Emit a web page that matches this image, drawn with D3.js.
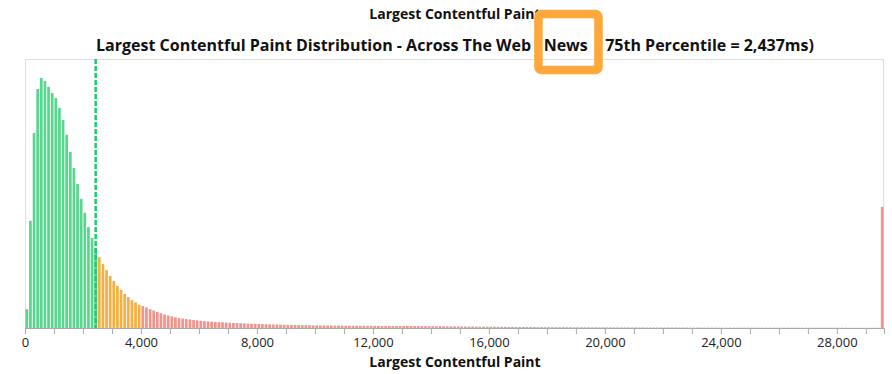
<!DOCTYPE html>
<html>
<head>
<meta charset="utf-8">
<script src="https://cdn.jsdelivr.net/npm/d3@7/dist/d3.min.js"></script>
<style>
  html, body { margin: 0; padding: 0; background: #fff; }
  svg { display: block; font-family: "Open Sans", "Noto Sans", sans-serif; }
</style>
</head>
<body>
<svg id="chart" width="892" height="374"></svg>
<script>
// LCP histogram, share of page loads (%) per 125 ms bin
const binWidth = 125;
const p75 = 2437;
const goodLimit = 2500;
const poorLimit = 4000;

// 0 – 2,500 ms
const goodShares = [0.42, 2.39, 4.35, 5.33, 5.58, 5.51, 5.38, 5.24, 5.13, 4.91,
  4.64, 4.31, 3.93, 3.57, 3.21, 2.88, 2.57, 2.25, 2.01, 1.78];

// 2,500 – 4,000 ms
const needsImprovementShares = [1.58, 1.43, 1.29, 1.16, 1.05, 0.94, 0.85, 0.76, 0.69, 0.62, 0.57, 0.52];

// 4,000 – 29,500 ms
const poorShares = [
  0.49, 0.46, 0.42, 0.39, 0.36, 0.33, 0.30, 0.28, 0.26, 0.24, 0.22, 0.21, 0.20, 0.19, 0.18, 0.17, 0.16,
  0.152, 0.146, 0.141, 0.136, 0.131, 0.127, 0.123, 0.118, 0.114, 0.110, 0.106, 0.103,
  0.099, 0.096, 0.093, 0.090, 0.087, 0.084, 0.081, 0.079, 0.077, 0.075,
  0.073, 0.071, 0.069, 0.067, 0.066, 0.064, 0.063, 0.061, 0.060, 0.058,
  0.057, 0.057, 0.056, 0.055, 0.055, 0.054, 0.053, 0.053, 0.052, 0.052,
  0.051, 0.050, 0.050, 0.049, 0.049, 0.048, 0.048, 0.047, 0.047, 0.046,
  0.046, 0.045, 0.045, 0.045, 0.044, 0.044,
  0.043, 0.043, 0.042, 0.041, 0.041, 0.040, 0.039, 0.039, 0.038, 0.037,
  0.036, 0.036, 0.035, 0.034, 0.033, 0.033, 0.032, 0.031, 0.031, 0.030,
  0.029, 0.029, 0.028, 0.027, 0.027, 0.026, 0.025, 0.025, 0.024, 0.023,
  0.023, 0.022, 0.022, 0.021, 0.020, 0.020, 0.019, 0.019, 0.018,
  0.018, 0.018, 0.017, 0.017, 0.017, 0.016, 0.016, 0.016, 0.015, 0.015,
  0.015, 0.015, 0.014, 0.014, 0.014, 0.014, 0.013, 0.013, 0.013, 0.013,
  0.012, 0.012, 0.012, 0.012, 0.012, 0.011, 0.011, 0.011, 0.011, 0.011,
  0.010, 0.010, 0.010, 0.010, 0.010, 0.010, 0.010, 0.009, 0.009, 0.009,
  0.009, 0.009, 0.009, 0.009, 0.009, 0.008, 0.008, 0.008, 0.008, 0.008,
  0.008, 0.008, 0.008, 0.008, 0.008,
  0.008, 0.008, 0.007, 0.007, 0.007, 0.007, 0.007, 0.007, 0.007, 0.007,
  0.007, 0.007, 0.006, 0.006, 0.006, 0.006, 0.006, 0.006, 0.006, 0.006,
  0.006, 0.006, 0.006, 0.006, 0.006, 0.005, 0.005, 0.005, 0.005, 0.005,
  0.005, 0.005, 0.005, 0.005, 0.005
];

// 29,500 ms and above
const overflowShares = [2.70];

const xTickValues = d3.range(0, 29001, 1000);
const xLabelEvery = 4000;

// title pieces, with the extra spacing (px) placed before each piece
const titleParts = [
  { text: "Largest Contentful Paint Distribution - Across The Web ", dx: 0 },
  { text: "(", dx: 1 },
  { text: "News", dx: 2 },
  { text: " ", dx: 1 },
  { text: "-", dx: 2 },
  { text: " 75th Percentile = 2,437ms)", dx: 1 }
];
const axisTitle = "Largest Contentful Paint";

const shares = [].concat(goodShares, needsImprovementShares, poorShares, overflowShares);
const bins = shares.map((v, i) => ({ start: i * binWidth, value: v }));

const svg = d3.select("#chart");
const plot = { left: 25, right: 884, top: 59, bottom: 328 };

const x = d3.scaleLinear()
  .domain([0, bins.length * binWidth])
  .range([plot.left, plot.right]);
const y = d3.scaleLinear()
  .domain([0, 6])
  .range([plot.bottom, plot.top]);

const colorFor = start => start < goodLimit ? "#58d68d" : (start < poorLimit ? "#f5b041" : "#f1948a");

// axis title of the chart above, only its lower part is in view
svg.append("text")
  .attr("x", 455).attr("y", 19)
  .attr("text-anchor", "middle")
  .attr("font-size", 14).attr("font-weight", 700).attr("fill", "#111")
  .text(axisTitle);

// title
const title = svg.append("text")
  .attr("x", 455).attr("y", 51)
  .attr("text-anchor", "middle")
  .attr("font-size", 16).attr("font-weight", 700).attr("fill", "#111")
  .attr("xml:space", "preserve");
title.selectAll("tspan")
  .data(titleParts)
  .join("tspan")
  .attr("dx", d => d.dx)
  .text(d => d.text);

// plot frame
svg.append("rect")
  .attr("x", plot.left + 0.5).attr("y", plot.top + 0.5)
  .attr("width", plot.right - plot.left - 1).attr("height", plot.bottom - plot.top)
  .attr("fill", "none").attr("stroke", "#dedede");

// bars
const pitch = x(binWidth) - x(0);
svg.append("g").selectAll("rect")
  .data(bins)
  .join("rect")
  .attr("x", d => x(d.start) + 0.45)
  .attr("width", pitch - 0.9)
  .attr("y", d => y(d.value))
  .attr("height", d => y(0) - y(d.value))
  .attr("fill", d => colorFor(d.start));

// 75th percentile marker
svg.append("line")
  .attr("x1", x(p75)).attr("x2", x(p75))
  .attr("y1", plot.top).attr("y2", plot.bottom)
  .attr("stroke", "#14d06a").attr("stroke-width", 2.5)
  .attr("stroke-dasharray", "5,2");

// x axis
const xAxis = d3.axisBottom(x)
  .tickValues(xTickValues)
  .tickSize(6)
  .tickFormat(d => d % xLabelEvery === 0 ? d3.format(",")(d) : "");
const gx = svg.append("g")
  .attr("transform", `translate(0,${plot.bottom})`)
  .call(xAxis);
gx.select(".domain").attr("stroke", "#aaa");
gx.selectAll(".tick line").attr("stroke", "#aaa");
gx.selectAll(".tick text")
  .attr("font-family", "'Open Sans', sans-serif")
  .attr("font-size", 13).attr("fill", "#222").attr("dy", "0.8em");

svg.append("text")
  .attr("x", 455).attr("y", 367)
  .attr("text-anchor", "middle")
  .attr("font-size", 14).attr("font-weight", 700).attr("fill", "#111")
  .text(axisTitle);

// highlight box round "News": its sides cover the "(" and the following "-"
const node = title.node();
const fullTitle = titleParts.map(d => d.text).join("");
const openIdx = fullTitle.indexOf("(News");
const dashIdx = fullTitle.indexOf("-", openIdx);
const charMid = i => (node.getStartPositionOfChar(i).x + node.getEndPositionOfChar(i).x) / 2;
const boxLeft = charMid(openIdx) - 0.5;
const boxRight = charMid(dashIdx) + 1;
svg.append("rect")
  .attr("x", boxLeft).attr("y", 14)
  .attr("width", boxRight - boxLeft).attr("height", 56)
  .attr("rx", 3)
  .attr("fill", "none")
  .attr("stroke", "#fba83c").attr("stroke-width", 8.5);
</script>
</body>
</html>
